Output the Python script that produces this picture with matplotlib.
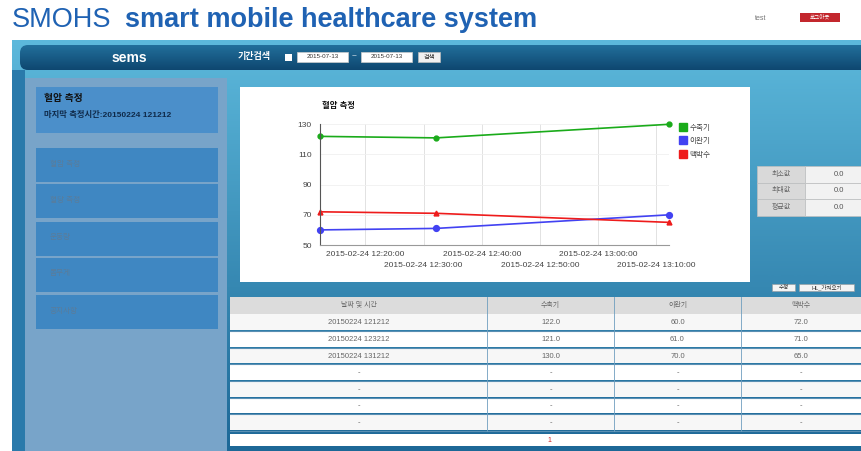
import numpy as np
import pandas as pd
import matplotlib
matplotlib.use("Agg")
import matplotlib.pyplot as plt
from matplotlib.patches import Rectangle, FancyBboxPatch
from matplotlib.colors import LinearSegmentedColormap
from matplotlib.lines import Line2D

plt.rcParams['font.family'] = ['Liberation Sans', 'Noto Sans CJK KR', 'DejaVu Sans']

# data
times = pd.to_datetime(["2015-02-24 12:12:12", "2015-02-24 12:32:12", "2015-02-24 13:12:12"])
systolic = [122, 121, 130]
diastolic = [60, 61, 70]
pulse = [72, 71, 65]
series_names = ["수축기", "이완기", "맥박수"]
row_dates = ["20150224 121212", "20150224 123212", "20150224 131212"]
table_header = ["날짜 및 시간", "수축기", "이완기", "맥박수"]
stat_names = ["최소값", "최대값", "평균값"]
stat_values = [0.0, 0.0, 0.0]
menu_items = ["혈압 측정", "혈당 측정", "운동량", "몸무게", "공지사항"]
ticks_row1 = pd.to_datetime(["2015-02-24 12:20:00", "2015-02-24 12:40:00", "2015-02-24 13:00:00"])
ticks_row2 = pd.to_datetime(["2015-02-24 12:30:00", "2015-02-24 12:50:00", "2015-02-24 13:10:00"])

W, H = 861, 451
fig = plt.figure(figsize=(W / 100, H / 100), dpi=100)
fig.patch.set_facecolor("white")

# background layer in pixel coords (y down)
bg = fig.add_axes([0, 0, 1, 1], zorder=0)
bg.set_xlim(0, W)
bg.set_ylim(H, 0)
bg.axis("off")

def grad(x0, x1, y0, y1, c_top, c_bot, clip=None, z=1):
    cm = LinearSegmentedColormap.from_list("g", [c_top, c_bot])
    im = bg.imshow(np.linspace(0, 1, 64).reshape(-1, 1), cmap=cm, aspect="auto",
                   extent=(x0, x1, y1, y0), zorder=z, interpolation="bilinear")
    if clip is not None:
        im.set_clip_path(clip)
    return im

def box(x0, y0, x1, y1, fc, ec="none", lw=0, z=2):
    bg.add_patch(Rectangle((x0, y0), x1 - x0, y1 - y0, facecolor=fc, edgecolor=ec, linewidth=lw, zorder=z))

# title
bg.text(12, 20, "SMOHS", fontsize=19.5, color="#1f62b3", va="center", ha="left")
bg.text(125, 20, "smart mobile healthcare system", fontsize=19.5, fontweight="bold",
        color="#1f62b3", va="center", ha="left")
bg.text(755, 18, "test", fontsize=5, color="#777777", va="center")
box(800, 13, 840, 22, "#c3272d", z=3)
bg.text(820, 17.5, "로그아웃", fontsize=4, color="white", ha="center", va="center", zorder=4)

# blue panel
grad(12, W, 40, H, "#5cb8db", "#1d6897", z=1)
box(12, 70, 25, H, "#2a7aab", z=1.5)

# header bar
hb = FancyBboxPatch((20, 45), W, 25, boxstyle="round,pad=0,rounding_size=8",
                    facecolor="none", edgecolor="none", zorder=2)
bg.add_patch(hb)
grad(20, W, 45, 70, "#226f9b", "#0e4770", clip=hb, z=2)
bg.text(129, 58, "sems", fontsize=10, fontweight="bold", color="white", ha="center", va="center", zorder=3)
bg.text(238, 57, "기간검색", fontsize=6.5, fontweight="bold", color="white", va="center", zorder=3)
box(285, 54, 292, 61, "white", z=3)
box(297, 52, 348, 62, "white", ec="#cccccc", lw=0.5, z=3)
bg.text(322.5, 57, "2015-07-13", fontsize=4.5, color="#333333", ha="center", va="center", zorder=4)
bg.text(354, 57, "~", fontsize=6, color="white", ha="center", va="center", zorder=4)
box(361, 52, 412, 62, "white", ec="#cccccc", lw=0.5, z=3)
bg.text(386.5, 57, "2015-07-13", fontsize=4.5, color="#333333", ha="center", va="center", zorder=4)
box(418, 52, 440, 62, "#f0f0f0", ec="#bbbbbb", lw=0.5, z=3)
bg.text(429, 57, "검색", fontsize=4.5, color="#333333", ha="center", va="center", zorder=4)

# sidebar
box(25, 78, 227, H, "#78a4c9", z=2)
box(36, 87, 218, 133, "#4b8fca", z=3)
bg.text(44, 98, "혈압 측정", fontsize=7, fontweight="bold", color="#111111", va="center", zorder=4)
bg.text(44, 115, "마지막 측정시간:20150224 121212", fontsize=6, fontweight="bold", color="#0f2a4a",
        va="center", zorder=4)
menu_y = [148, 184, 222, 258, 295]
for yy, name in zip(menu_y, menu_items):
    box(36, yy, 218, yy + 34, "#3f87c2", z=3)
    bg.text(50, yy + 16, name, fontsize=5.5, color="#5b7c99", va="center", zorder=4)

# chart card
box(240, 87, 750, 282, "white", z=2)
bg.text(322, 106, "혈압 측정", fontsize=6, fontweight="bold", color="#111111", va="center", zorder=4)

# stats table
for i, (nm, v) in enumerate(zip(stat_names, stat_values)):
    y0 = 166 + i * 16.5
    box(757, y0, 805, y0 + 16.5, "#d9d9d9", ec="#bfbfbf", lw=0.5, z=3)
    box(805, y0, W, y0 + 16.5, "#f2f2f2", ec="#bfbfbf", lw=0.5, z=3)
    bg.text(781, y0 + 8.2, nm, fontsize=5, color="#666666", ha="center", va="center", zorder=4)
    bg.text(839, y0 + 8.2, "%.1f" % v, fontsize=5.5, color="#555555", ha="center", va="center", zorder=4)

# buttons
box(772, 284, 795, 291, "#f4f4f4", ec="#999999", lw=0.4, z=3)
bg.text(783.5, 287.5, "수정", fontsize=4, color="#333333", ha="center", va="center", zorder=4)
box(799, 284, 854, 291, "#f4f4f4", ec="#999999", lw=0.4, z=3)
bg.text(826.5, 287.5, "HL_가져오기", fontsize=4, color="#333333", ha="center", va="center", zorder=4)

# data table
col_x = [230, 487, 614, 741, W]
row_top = [297, 314, 331, 348, 364, 381, 398, 414, 431]
box(230, 297, W, 314, "#dcdcdc", z=3)
for r in range(7):
    box(230, row_top[r + 1], W, row_top[r + 2] - 1, "#f7f7f7" if r % 2 == 0 else "white", z=3)
    bg.plot([230, W], [row_top[r + 2] - 0.5] * 2, color="#5a8fb3", lw=0.8, zorder=4)
for cx in col_x[1:-1]:
    bg.plot([cx, cx], [297, 431], color="#6f9ebf", lw=0.6, zorder=4)
for c in range(4):
    cxm = (col_x[c] + col_x[c + 1]) / 2
    bg.text(cxm, 305.5, table_header[c], fontsize=5, color="#666666", ha="center", va="center", zorder=5)
    for r in range(7):
        ym = (row_top[r + 1] + row_top[r + 2]) / 2
        if r < len(row_dates):
            vals = [row_dates[r], "%.1f" % systolic[r], "%.1f" % diastolic[r], "%.1f" % pulse[r]]
            s = vals[c]
        else:
            s = "-"
        bg.text(cxm, ym, s, fontsize=5.5, color="#666666", ha="center", va="center", zorder=5)
box(230, 434, W, 446, "white", z=3)
bg.text(549, 440, "1", fontsize=5, color="#cc2222", ha="center", va="center", zorder=5)

# line chart
def fx(px):
    return px / W

def fy(py):
    return 1 - py / H

left, right, top, bottom = 320, 669, 124.3, 245
ax = fig.add_axes([fx(left), fy(bottom), fx(right - left), (bottom - top) / H], zorder=5)
ax.patch.set_alpha(0)

ax.plot(times, systolic, color="#1aab1a", lw=1.2, marker="o", ms=3.5, clip_on=False, label=series_names[0])
ax.plot(times, diastolic, color="#4242f2", lw=1.2, marker="o", ms=4.2, clip_on=False, label=series_names[1])
ax.plot(times, pulse, color="#ee1b1b", lw=1.2, marker="^", ms=3.5, clip_on=False, label=series_names[2])

ax.set_xlim(times[0], times[-1])
ax.set_ylim(50, 130)
ax.set_yticks([50, 70, 90, 110, 130])
ax.set_xticks(ticks_row1)
ax.set_xticklabels([t.strftime("%Y-%m-%d %H:%M:%S") for t in ticks_row1])
ax.set_xticks(ticks_row2, minor=True)
ax.set_xticklabels([t.strftime("%Y-%m-%d %H:%M:%S") for t in ticks_row2], minor=True)
ax.tick_params(axis="both", which="both", length=0, labelsize=6, colors="#444444")
ax.tick_params(axis="y", pad=6)
ax.tick_params(axis="x", which="major", pad=4)
ax.tick_params(axis="x", which="minor", pad=12)
ax.grid(axis="x", which="both", color="#dddddd", lw=0.6)
ax.grid(axis="y", color="#f0f0f0", lw=0.6)
for sp in ["top", "right"]:
    ax.spines[sp].set_visible(False)
ax.spines["left"].set_color("#555555")
ax.spines["left"].set_linewidth(0.8)
ax.spines["bottom"].set_color("#999999")
ax.spines["bottom"].set_linewidth(0.8)

handles = [Line2D([], [], color=c, marker="s", ls="none", ms=6)
           for c in ["#1aab1a", "#4242f2", "#ee1b1b"]]
ax.legend(handles, series_names, loc="upper left", bbox_to_anchor=(1.03, 1.0), frameon=False,
          fontsize=5.5, borderaxespad=0, borderpad=0, handlelength=1, handletextpad=0.3,
          labelspacing=0.8, labelcolor="#444444")

plt.savefig("out.png", dpi=100)
